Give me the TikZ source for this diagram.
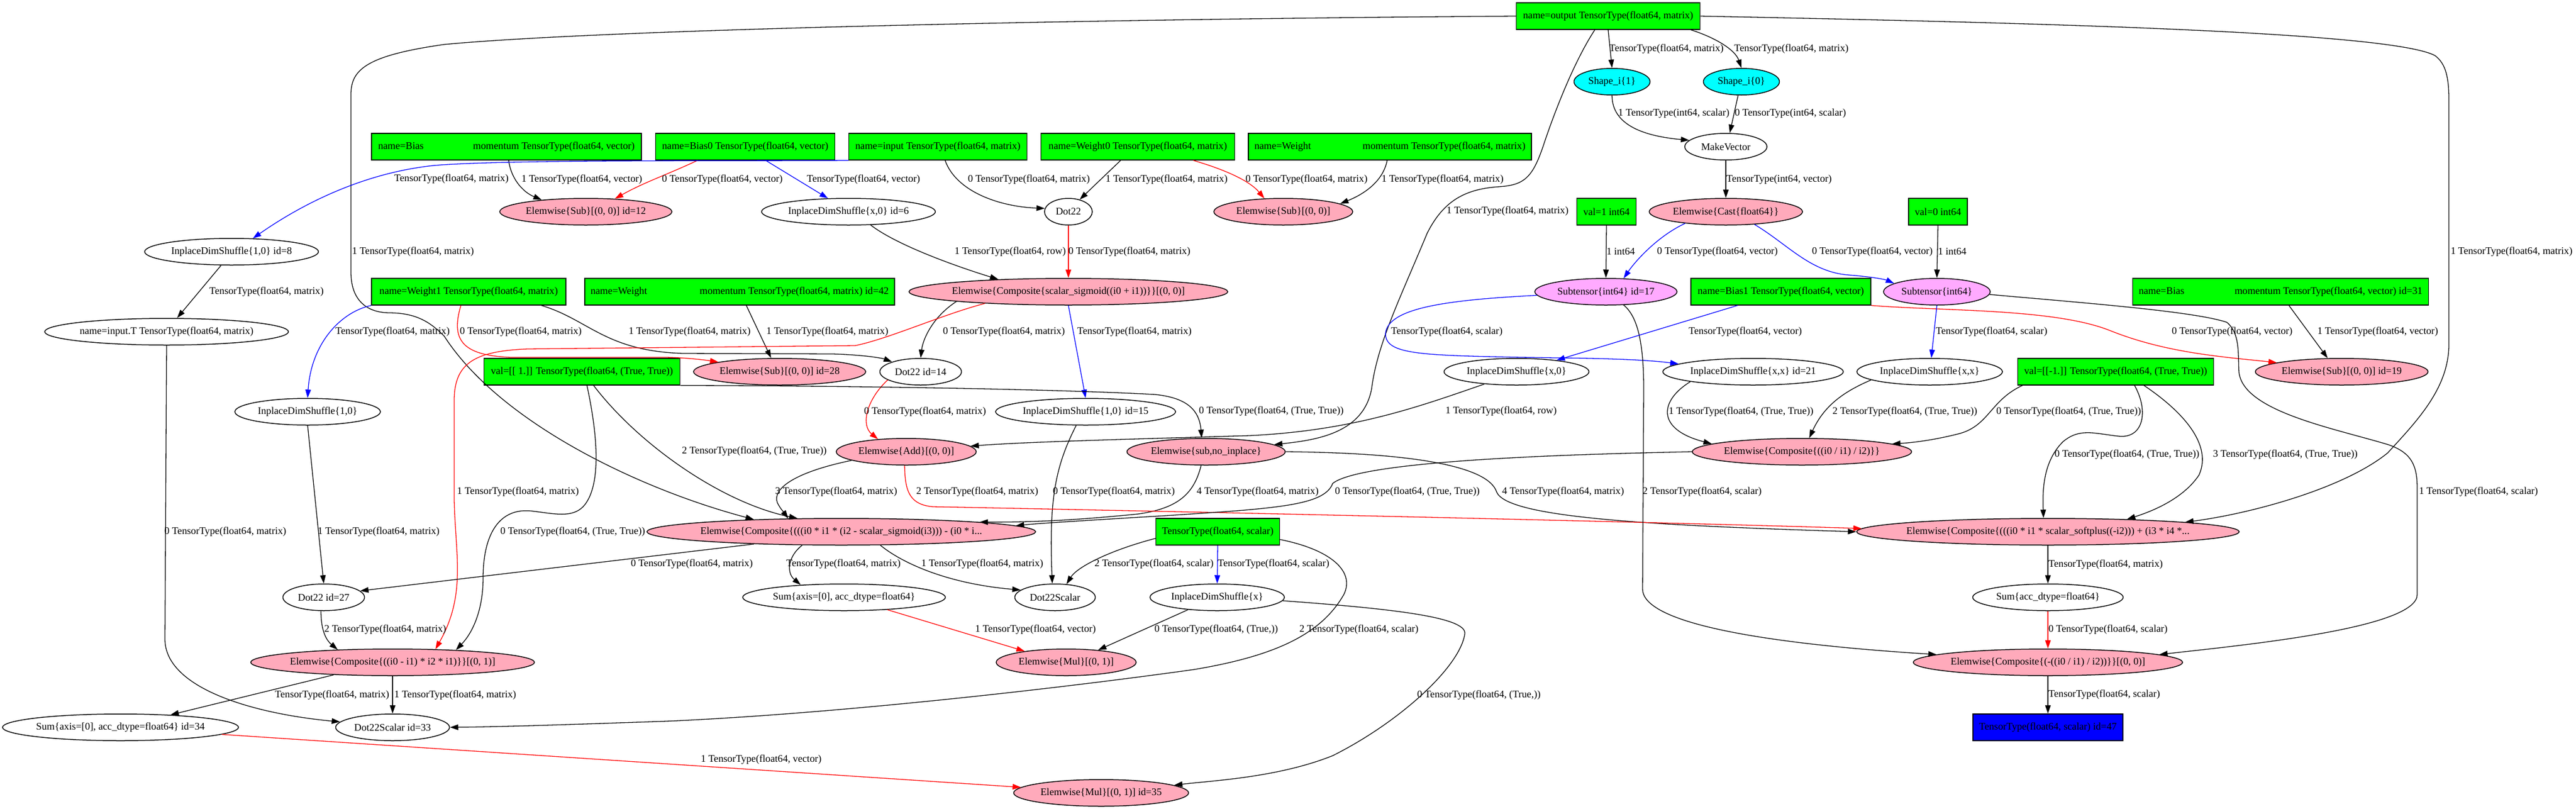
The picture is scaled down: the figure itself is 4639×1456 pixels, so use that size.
\documentclass[tikz,border=0pt]{standalone}
\usepackage{fontspec}
\setmainfont{Liberation Serif}
\usetikzlibrary{shapes.geometric,arrows.meta}
\definecolor{gvgreen}{HTML}{00FF00}
\definecolor{gvpink}{HTML}{FFAABB}
\definecolor{gvviolet}{HTML}{FFAAFF}
\definecolor{gvcyan}{HTML}{00FFFF}
\definecolor{gvblue}{HTML}{0000FF}
\definecolor{gvred}{HTML}{FF0000}
\newcommand\gvfs{\fontsize{18.2}{22}\selectfont}
\newcommand\gvt[1]{\makebox[0pt]{#1}}
\begin{document}
\begin{tikzpicture}[x=1pt,y=-1pt,font=\gvfs,
  box/.style={draw,line width=1.5pt,rectangle,fill=gvgreen,minimum height=48pt,inner sep=0pt},
  ell/.style={draw,line width=1.5pt,ellipse,minimum height=48pt,inner sep=0pt},
  pk/.style={ell,fill=gvpink},
  vi/.style={ell,fill=gvviolet},
  cy/.style={ell,fill=gvcyan},
  edk/.style={draw,line width=1.3pt,-{Triangle[length=15pt,width=10pt]}},
  edr/.style={edk,color=gvred},
  edb/.style={edk,color=gvblue},
  lbl/.style={anchor=west,inner sep=0pt}]
\useasboundingbox (0,0) rectangle (4639,1456);
\fill[white] (0,0) rectangle (4639,1456);
% boxes
\node[box,minimum width=331pt] (out) at (2896,29) {name=output TensorType(float64, matrix)};
\node[box,minimum width=486pt] (biasm) at (912,264) {\makebox[462pt]{name=Bias\hfill momentum TensorType(float64, vector)}};
\node[box,minimum width=323pt] (bias0) at (1342,264) {name=Bias0 TensorType(float64, vector)};
\node[box,minimum width=321pt] (inp) at (1689,264) {name=input TensorType(float64, matrix)};
\node[box,minimum width=349pt] (w0) at (2049,264) {name=Weight0 TensorType(float64, matrix)};
\node[box,minimum width=510pt] (wm) at (2503,264) {\makebox[488pt]{name=Weight\hfill momentum TensorType(float64, matrix)}};
\node[box,minimum width=107pt] (val1) at (2893,381) {val=1 int64};
\node[box,minimum width=106pt] (val0) at (3490,381) {val=0 int64};
\node[box,minimum width=350pt] (w1) at (844,525) {name=Weight1 TensorType(float64, matrix)};
\node[box,minimum width=558pt] (wm42) at (1332,525) {\makebox[537pt]{name=Weight\hfill momentum TensorType(float64, matrix) id=42}};
\node[box,minimum width=324pt] (bias1) at (3207,525) {name=Bias1 TensorType(float64, vector)};
\node[box,minimum width=533pt] (bm31) at (4107,525) {\makebox[511pt]{name=Bias\hfill momentum TensorType(float64, vector) id=31}};
\node[box,minimum width=353pt] (one) at (1048,669) {val=[[\ 1.]] TensorType(float64, (True, True))};
\node[box,minimum width=353pt] (mone) at (3810,669) {val=[[-1.]] TensorType(float64, (True, True))};
\node[box,minimum width=223pt] (sc) at (2193,957) {TensorType(float64, scalar)};
\node[box,fill=gvblue,minimum width=270pt] (res) at (3688,1309) {TensorType(float64, scalar) id=47};
% ellipses
\node[cy,minimum width=137pt] (sh1) at (2903,147) {\gvt{Shape\_i\{1\}}};
\node[cy,minimum width=137pt] (sh0) at (3136,147) {\gvt{Shape\_i\{0\}}};
\node[ell,minimum width=148pt] (mv) at (3108,264) {\gvt{MakeVector}};
\node[pk,minimum width=310pt] (sub12) at (1055,381) {\gvt{Elemwise\{Sub\}[(0, 0)] id=12}};
\node[ell,minimum width=313pt] (ds6) at (1528,381) {\gvt{InplaceDimShuffle\{x,0\} id=6}};
\node[ell,minimum width=86pt] (dot) at (1924,381) {\gvt{Dot22}};
\node[pk,minimum width=250pt] (sub) at (2311,381) {\gvt{Elemwise\{Sub\}[(0, 0)]}};
\node[pk,minimum width=276pt] (cast) at (3108,381) {\gvt{Elemwise\{Cast\{float64\}\}}};
\node[ell,minimum width=313pt] (ds8) at (417,453) {\gvt{InplaceDimShuffle\{1,0\} id=8}};
\node[pk,minimum width=574pt] (sig) at (1924,525) {\gvt{Elemwise\{Composite\{scalar\_sigmoid((i0 + i1))\}\}[(0, 0)]}};
\node[vi,minimum width=256pt] (st17) at (2892,525) {\gvt{Subtensor\{int64\} id=17}};
\node[vi,minimum width=192pt] (st) at (3488,525) {\gvt{Subtensor\{int64\}}};
\node[ell,minimum width=439pt] (inT) at (300,597) {\gvt{name=input.T TensorType(float64, matrix)}};
\node[pk,minimum width=310pt] (sub28) at (1404,669) {\gvt{Elemwise\{Sub\}[(0, 0)] id=28}};
\node[ell,minimum width=147pt] (dot14) at (1658,669) {\gvt{Dot22 id=14}};
\node[ell,minimum width=261pt] (dsx0) at (2731,669) {\gvt{InplaceDimShuffle\{x,0\}}};
\node[ell,minimum width=325pt] (ds21) at (3157,669) {\gvt{InplaceDimShuffle\{x,x\} id=21}};
\node[ell,minimum width=262pt] (dsxx) at (3475,669) {\gvt{InplaceDimShuffle\{x,x\}}};
\node[pk,minimum width=311pt] (sub19) at (4217,669) {\gvt{Elemwise\{Sub\}[(0, 0)] id=19}};
\node[ell,minimum width=262pt] (ds10) at (554,741) {\gvt{InplaceDimShuffle\{1,0\}}};
\node[ell,minimum width=324pt] (ds15) at (1955,741) {\gvt{InplaceDimShuffle\{1,0\} id=15}};
\node[pk,minimum width=252pt] (add) at (1632,813) {\gvt{Elemwise\{Add\}[(0, 0)]}};
\node[pk,minimum width=285pt] (subni) at (2172,813) {\gvt{Elemwise\{sub,no\_inplace\}}};
\node[pk,minimum width=395pt] (div) at (3245,813) {\gvt{Elemwise\{Composite\{((i0 / i1) / i2)\}\}}};
\node[pk,minimum width=700pt] (cmin) at (1515,957) {\gvt{Elemwise\{Composite\{(((i0 * i1 * (i2 - scalar\_sigmoid(i3))) - (i0 * i...}};
\node[pk,minimum width=689pt] (sp) at (3688,957) {\gvt{Elemwise\{Composite\{(((i0 * i1 * scalar\_softplus((-i2))) + (i3 * i4 *...}};
\node[ell,minimum width=147pt] (dot27) at (583,1075) {\gvt{Dot22 id=27}};
\node[ell,minimum width=365pt] (sumax) at (1520,1075) {\gvt{Sum\{axis=[0], acc\_dtype=float64\}}};
\node[ell,minimum width=145pt] (d22s) at (1900,1075) {\gvt{Dot22Scalar}};
\node[ell,minimum width=242pt] (dsx) at (2192,1075) {\gvt{InplaceDimShuffle\{x\}}};
\node[ell,minimum width=271pt] (sumacc) at (3688,1075) {\gvt{Sum\{acc\_dtype=float64\}}};
\node[pk,minimum width=511pt] (cmul) at (707,1192) {\gvt{Elemwise\{Composite\{((i0 - i1) * i2 * i1)\}\}[(0, 1)]}};
\node[pk,minimum width=252pt] (mul) at (1920,1192) {\gvt{Elemwise\{Mul\}[(0, 1)]}};
\node[pk,minimum width=485pt] (neg) at (3688,1192) {\gvt{Elemwise\{Composite\{(-((i0 / i1) / i2))\}\}[(0, 0)]}};
\node[ell,minimum width=425pt] (sum34) at (217,1309) {\gvt{Sum\{axis=[0], acc\_dtype=float64\} id=34}};
\node[ell,minimum width=205pt] (d33) at (707,1309) {\gvt{Dot22Scalar id=33}};
\node[pk,minimum width=315pt] (mul35) at (1983,1427) {\gvt{Elemwise\{Mul\}[(0, 1)] id=35}};
% edges
\draw[edk] (out.south) -- (sh1.north);
\draw[edk] ([xshift=149pt]out.south) .. controls (3090,68) and (3125,90) .. (sh0.north);
\draw[edk] (sh1.south) .. controls (2903,225) and (2960,245) .. (mv.170);
\draw[edk] ([xshift=-6pt]sh0.south) -- ([xshift=7pt]mv.north);
\draw[edk] (mv.south) -- (cast.north);
\draw[edb] (cast.-164) .. controls (2985,425) and (2945,470) .. (st17.37);
\draw[edk] (out.west) .. controls (2000,34) and (1100,52) .. (800,80) .. controls (660,100) and (632,125) .. (632,170) -- (632,490) .. controls (632,535) and (655,562) .. (700,563) .. controls (750,563) and (775,580) .. (800,605) .. controls (900,760) and (1150,880) .. (cmin.172);
\draw[edk] ([xshift=-24pt]out.south) .. controls (2835,110) and (2800,200) .. (2780,260) .. controls (2760,320) and (2745,333) .. (2700,336) .. controls (2640,340) and (2600,360) .. (2570,420) .. controls (2520,540) and (2480,620) .. (2470,700) .. controls (2455,780) and (2370,792) .. (subni.6);
\draw[edk] (out.east) .. controls (3600,40) and (4300,55) .. (4385,100) .. controls (4405,115) and (4410,140) .. (4410,180) -- (4410,620) .. controls (4410,700) and (4350,760) .. (4300,815) .. controls (4220,880) and (4050,925) .. (sp.4);
\draw[edk] ([xshift=4pt]biasm.south) .. controls (920,320) and (940,345) .. (sub12.165);
\draw[edr] ([xshift=-86pt]bias0.south) .. controls (1200,315) and (1160,328) .. (sub12.24);
\draw[edb] ([xshift=37pt]bias0.south) -- (ds6.147);
\draw[edb] (inp.south west) .. controls (1300,290) and (900,287) .. (780,298) .. controls (650,312) and (540,370) .. (ds8.32);
\draw[edk] ([xshift=13pt]inp.south) .. controls (1722,345) and (1800,372) .. (dot.172);
\draw[edk] ([xshift=-31pt]w0.south) -- (dot.47);
\draw[edr] ([xshift=100pt]w0.south) .. controls (2205,305) and (2250,325) .. (sub.145);
\draw[edk] ([xshift=-5pt]wm.south) .. controls (2490,330) and (2450,352) .. (sub.8);
\draw[edk] (ds6.-31) .. controls (1620,445) and (1740,485) .. (sig.170);
\draw[edr] (dot.south) -- (sig.north);
\draw[edk] ([xshift=-19pt]ds8.south) -- ([xshift=19pt]inT.north);
\draw[edk] (inT.south) -- (297,1150) .. controls (297,1240) and (460,1285) .. (d33.174);
\draw[edb] (w1.south west) .. controls (612,562) and (560,620) .. (ds10.north);
\draw[edk] (ds10.south) -- (dot27.north);
\draw[edr] ([xshift=-14pt]w1.south) .. controls (812,610) and (830,640) .. (920,643) -- (1200,643) .. controls (1240,644) and (1270,648) .. (sub28.171);
\draw[edk] ([xshift=131pt]w1.south) .. controls (1060,575) and (1090,632) .. (1230,636) -- (1500,637) .. controls (1560,639) and (1590,645) .. (dot14.161);
\draw[edk] ([xshift=12pt]wm42.south) -- (sub28.122);
\draw[edk] (sig.-175) .. controls (1680,570) and (1662,610) .. (dot14.north);
\draw[edb] (sig.south) -- (ds15.north);
\draw[edr] (sig.-172) .. controls (1700,565) and (1600,610) .. (1540,622) -- (950,628) .. controls (860,632) and (818,650) .. (818,720) -- (818,900) .. controls (820,1000) and (840,1070) .. (cmul.17);
\draw[edr] (dot14.-166) .. controls (1560,720) and (1550,765) .. (add.156);
\draw[edk] (dsx0.-159) .. controls (2560,730) and (2440,775) .. (2250,784) .. controls (2050,790) and (1850,795) .. (add.5);
\draw[edk] (one.south east) .. controls (1500,694) and (1900,700) .. (2080,710) .. controls (2140,716) and (2160,740) .. ([xshift=-8pt]subni.north);
\draw[edk] ([xshift=21pt]one.south) .. controls (1150,800) and (1300,905) .. (cmin.163);
\draw[edk] ([xshift=9pt]one.south) .. controls (1080,800) and (1080,880) .. (1050,912) .. controls (1030,932) and (1000,925) .. (960,920) .. controls (900,912) and (870,960) .. (870,1040) .. controls (870,1100) and (850,1140) .. (cmul.11);
\draw[edk] ([xshift=-17pt]ds15.south) .. controls (1900,840) and (1889,900) .. ([xshift=-5pt]d22s.north);
\draw[edk] ([xshift=-9pt]subni.south) .. controls (2150,890) and (2120,915) .. (2050,925) .. controls (1950,935) and (1870,940) .. (cmin.4);
\draw[edk] (subni.east) .. controls (2550,815) and (2680,840) .. (2695,885) .. controls (2712,930) and (2950,945) .. (sp.west);
\draw[edk] (add.-171) .. controls (1430,850) and (1390,880) .. (1400,905) .. controls (1405,915) and (1410,920) .. (cmin.166);
\draw[edr] ([xshift=-3pt]add.south) .. controls (1630,880) and (1635,908) .. (1680,912) .. controls (2200,922) and (3000,940) .. (sp.179);
\draw[edk] (div.west) .. controls (2800,818) and (2450,830) .. (2400,870) .. controls (2385,910) and (2300,915) .. (2100,928) .. controls (1950,937) and (1870,942) .. (cmin.2);
\draw[edb] (st17.-177) .. controls (2600,540) and (2500,555) .. (2495,600) .. controls (2495,640) and (2560,640) .. (2800,644) .. controls (2900,645) and (2970,648) .. (ds21.174);
\draw[edk] (st17.-37) .. controls (2950,570) and (2960,620) .. (2960,700) -- (2958,1060) .. controls (2958,1125) and (3200,1160) .. (neg.176);
\draw[edk] (val1.south) -- (st17.north);
\draw[edb] (cast.-24) .. controls (3220,440) and (3260,490) .. (3330,495) .. controls (3370,498) and (3395,503) .. (st.169);
\draw[edk] (val0.south) -- (st.north);
\draw[edb] ([xshift=-78pt]bias1.south) -- (dsx0.16);
\draw[edr] (bias1.south east) .. controls (3500,560) and (3700,555) .. (3800,595) .. controls (3900,635) and (4000,642) .. (sub19.172);
\draw[edk] ([xshift=15pt]bm31.south) -- (sub19.136);
\draw[edb] (st.south) -- ([xshift=3pt]dsxx.north);
\draw[edk] (st.-3) .. controls (3750,545) and (3950,560) .. (4010,580) .. controls (4035,600) and (4030,640) .. (4032,670) .. controls (4040,740) and (4200,770) .. (4300,800) .. controls (4345,815) and (4353,840) .. (4353,880) -- (4353,1070) .. controls (4353,1130) and (4050,1160) .. (neg.4);
\draw[edk] (ds21.-171) .. controls (2990,720) and (2980,772) .. (div.175);
\draw[edk] (dsxx.-172) .. controls (3320,705) and (3285,730) .. (div.62);
\draw[edk] ([xshift=-168pt]mone.south) .. controls (3585,720) and (3582,765) .. (3530,780) .. controls (3480,793) and (3440,797) .. (div.5);
\draw[edk] ([xshift=34pt]mone.south) .. controls (3870,740) and (3860,790) .. (3815,785) .. controls (3770,780) and (3745,770) .. (3715,795) .. controls (3680,830) and (3678,880) .. ([xshift=-8pt]sp.north);
\draw[edk] ([xshift=51pt]mone.south) .. controls (3930,740) and (3985,800) .. (3960,855) .. controls (3930,900) and (3870,922) .. (sp.9);
\draw[edk] (sp.south) -- (sumacc.north);
\draw[edr] (sumacc.south) -- (neg.north);
\draw[edk] (neg.south) -- (res.north);
\draw[edk] (cmin.-172) -- (dot27.10);
\draw[edk] (cmin.-161) .. controls (1420,1000) and (1415,1030) .. (sumax.164);
\draw[edk] (cmin.-19) .. controls (1620,1010) and (1700,1050) .. (d22s.168);
\draw[edk] ([yshift=-12pt]sc.west) .. controls (2000,990) and (1940,1020) .. (d22s.49);
\draw[edb] (sc.south) -- (dsx.north);
\draw[edk] ([yshift=-14pt]sc.east) .. controls (2400,990) and (2440,1030) .. (2420,1070) .. controls (2380,1140) and (2300,1180) .. (2150,1205) .. controls (1900,1240) and (1500,1285) .. (1200,1298) .. controls (1000,1305) and (900,1308) .. (d33.east);
\draw[edk] (dsx.-157) -- (mul.21);
\draw[edr] (sumax.-16) -- (mul.165);
\draw[edk] (dsx.-3) .. controls (2500,1095) and (2640,1110) .. (2638,1140) .. controls (2630,1200) and (2520,1300) .. (2400,1360) .. controls (2300,1400) and (2180,1405) .. (mul35.6);
\draw[edk] (cmul.-168) -- (sum34.14);
\draw[edk] (cmul.south) -- (d33.north);
\draw[edk] ([xshift=-5pt]dot27.south) .. controls (578,1130) and (585,1150) .. (cmul.167);
\draw[edr] (sum34.-4) -- (mul35.176);
% labels
\node[lbl] (l1) at (2898,88) {TensorType(float64, matrix)};
\node[lbl] (l2) at (3123,88) {TensorType(float64, matrix)};
\node[lbl] (l3) at (2914,204) {1 TensorType(int64, scalar)};
\node[lbl] (l4) at (3124,204) {0 TensorType(int64, scalar)};
\node[lbl] (l5) at (3109,323) {TensorType(int64, vector)};
\node[lbl] (l6) at (710,322) {TensorType(float64, matrix)};
\node[lbl] (l7) at (939,323) {1 TensorType(float64, vector)};
\node[lbl] (l8) at (1192,323) {0 TensorType(float64, vector)};
\node[lbl] (l9) at (1453,323) {TensorType(float64, vector)};
\node[lbl] (l10) at (1743,323) {0 TensorType(float64, matrix)};
\node[lbl] (l11) at (1991,323) {1 TensorType(float64, matrix)};
\node[lbl] (l12) at (2243,323) {0 TensorType(float64, matrix)};
\node[lbl] (l13) at (2488,323) {1 TensorType(float64, matrix)};
\node[lbl] (l14) at (2605,380) {1 TensorType(float64, matrix)};
\node[lbl] (l15) at (634,453) {1 TensorType(float64, matrix)};
\node[lbl] (l16) at (1719,453) {1 TensorType(float64, row)};
\node[lbl] (l17) at (1924,453) {0 TensorType(float64, matrix)};
\node[lbl] (l18) at (2893,453) {1 int64};
\node[lbl] (l19) at (2984,453) {0 TensorType(float64, vector)};
\node[lbl] (l20) at (3263,453) {0 TensorType(float64, vector)};
\node[lbl] (l21) at (3490,453) {1 int64};
\node[lbl] (l22) at (4413,453) {1 TensorType(float64, matrix)};
\node[lbl] (l23) at (377,525) {TensorType(float64, matrix)};
\node[lbl] (l24) at (604,597) {TensorType(float64, matrix)};
\node[lbl] (l25) at (828,597) {0 TensorType(float64, matrix)};
\node[lbl] (l26) at (1132,597) {1 TensorType(float64, matrix)};
\node[lbl] (l27) at (1380,597) {1 TensorType(float64, matrix)};
\node[lbl] (l28) at (1698,597) {0 TensorType(float64, matrix)};
\node[lbl] (l29) at (1940,597) {TensorType(float64, matrix)};
\node[lbl] (l30) at (2505,597) {TensorType(float64, scalar)};
\node[lbl] (l31) at (3041,597) {TensorType(float64, vector)};
\node[lbl] (l32) at (3486,597) {TensorType(float64, scalar)};
\node[lbl] (l33) at (3911,597) {0 TensorType(float64, vector)};
\node[lbl] (l34) at (4173,597) {1 TensorType(float64, vector)};
\node[lbl] (l35) at (1556,741) {0 TensorType(float64, matrix)};
\node[lbl] (l36) at (2159,740) {0 TensorType(float64, (True, True))};
\node[lbl] (l37) at (2603,740) {1 TensorType(float64, row)};
\node[lbl] (l38) at (3005,741) {1 TensorType(float64, (True, True))};
\node[lbl] (l39) at (3300,741) {2 TensorType(float64, (True, True))};
\node[lbl] (l40) at (3595,741) {0 TensorType(float64, (True, True))};
\node[lbl] (l41) at (1228,812) {2 TensorType(float64, (True, True))};
\node[lbl] (l42) at (3700,818) {0 TensorType(float64, (True, True))};
\node[lbl] (l43) at (3985,818) {3 TensorType(float64, (True, True))};
\node[lbl] (l44) at (823,885) {1 TensorType(float64, matrix)};
\node[lbl] (l45) at (1396,885) {3 TensorType(float64, matrix)};
\node[lbl] (l46) at (1650,885) {2 TensorType(float64, matrix)};
\node[lbl] (l47) at (1896,885) {0 TensorType(float64, matrix)};
\node[lbl] (l48) at (2155,885) {4 TensorType(float64, matrix)};
\node[lbl] (l49) at (2404,885) {0 TensorType(float64, (True, True))};
\node[lbl] (l50) at (2705,885) {4 TensorType(float64, matrix)};
\node[lbl] (l51) at (2958,885) {2 TensorType(float64, scalar)};
\node[lbl] (l52) at (4356,885) {1 TensorType(float64, scalar)};
\node[lbl] (l53) at (296,957) {0 TensorType(float64, matrix)};
\node[lbl] (l54) at (572,957) {1 TensorType(float64, matrix)};
\node[lbl] (l55) at (901,957) {0 TensorType(float64, (True, True))};
\node[lbl] (l56) at (1136,1015) {0 TensorType(float64, matrix)};
\node[lbl] (l57) at (1416,1015) {TensorType(float64, matrix)};
\node[lbl] (l58) at (1659,1015) {1 TensorType(float64, matrix)};
\node[lbl] (l59) at (1971,1015) {2 TensorType(float64, scalar)};
\node[lbl] (l60) at (2193,1015) {TensorType(float64, scalar)};
\node[lbl] (l61) at (3689,1016) {TensorType(float64, matrix)};
\node[lbl] (l62) at (584,1133) {2 TensorType(float64, matrix)};
\node[lbl] (l63) at (1756,1133) {1 TensorType(float64, vector)};
\node[lbl] (l64) at (2079,1133) {0 TensorType(float64, (True,))};
\node[lbl] (l65) at (2340,1133) {2 TensorType(float64, scalar)};
\node[lbl] (l66) at (3689,1133) {0 TensorType(float64, scalar)};
\node[lbl] (l67) at (495,1251) {TensorType(float64, matrix)};
\node[lbl] (l68) at (710,1251) {1 TensorType(float64, matrix)};
\node[lbl] (l69) at (2552,1251) {0 TensorType(float64, (True,))};
\node[lbl] (l70) at (3689,1250) {TensorType(float64, scalar)};
\node[lbl] (l71) at (1262,1367) {1 TensorType(float64, vector)};
\end{tikzpicture}
\end{document}
